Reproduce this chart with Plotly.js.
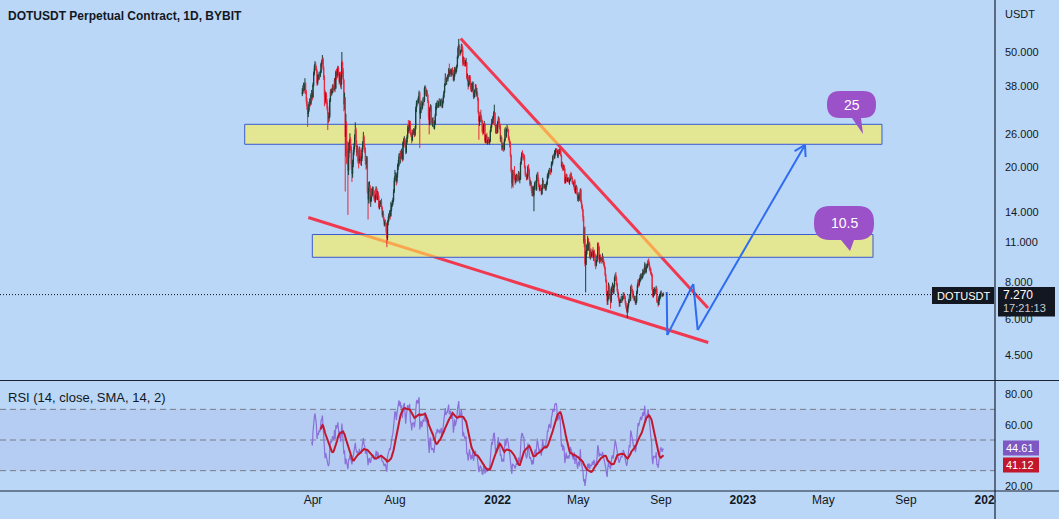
<!DOCTYPE html>
<html>
<head>
<meta charset="utf-8">
<script src="https://cdn.plot.ly/plotly-3.0.1.min.js"></script>
<style>
html,body{margin:0;padding:0;background:#bad7f8;overflow:hidden;}
#chart{width:1059px;height:519px;}
</style>
</head>
<body>
<div id="chart"></div>
<script>
// ---------------- DATA (daily candles, one row per month) ----------------
const monthStarts = ['2021-03-16','2021-04-01','2021-05-01','2021-06-01','2021-07-01','2021-08-01','2021-09-01','2021-10-01','2021-11-01','2021-12-01','2022-01-01','2022-02-01','2022-03-01','2022-04-01','2022-05-01','2022-06-01','2022-07-01','2022-08-01','2022-09-01'];

const openM = [
[35.8,36.4,37.2,38.0,37.0,39.0,36.5,34.0,32.5,30.5,31.5,33.0,33.8,33.2,35.5,36.0],
[35.0,38.5,42.0,44.0,45.5,44.0,43.0,39.0,41.0,40.5,42.0,41.5,42.5,45.5,46.0,47.5,44.0,41.0,35.5,34.0,35.5,33.5,32.0,30.5,29.5,30.0,34.0,36.5,36.0,36.5],
[38.0,37.5,37.0,40.0,37.5,42.5,41.5,42.5,44.0,42.0,39.5,42.0,38.5,41.0,46.0,43.0,40.0,33.0,34.5,25.5,28.0,23.0,22.5,19.5,23.5,23.0,25.0,23.5,20.5,19.0,20.5],
[22.5,23.5,25.5,27.0,24.0,22.5,23.0,21.0,21.0,23.0,22.0,21.0,21.5,23.0,24.0,25.5,23.5,23.0,21.0,20.5,21.5,16.5,15.5,17.0,17.2,15.3,15.5,16.6,16.2,16.9],
[16.5,15.6,15.4,15.9,16.9,15.6,16.3,15.9,14.6,15.1,14.9,15.2,14.5,13.7,13.8,13.2,12.7,12.9,12.8,12.0,11.4,12.9,13.2,13.7,13.8,13.6,14.3,14.8,15.1,15.4,16.5],
[18.0,18.6,18.6,17.9,18.9,20.2,20.4,21.8,21.3,22.4,21.8,22.5,21.3,24.3,24.4,24.9,23.8,22.6,24.4,25.4,27.3,26.7,27.5,28.5,26.2,25.9,24.8,26.5,26.4,26.5,25.9],
[27.2,31.8,33.2,34.0,33.5,34.8,36.2,30.6,31.5,33.3,32.0,33.2,34.5,34.0,37.5,37.6,35.7,36.5,35.6,33.9,30.0,28.1,32.0,32.4,29.0,28.4,28.9,28.5,27.4,28.3],
[30.2,32.4,32.4,33.6,32.8,33.2,33.5,32.8,33.5,34.1,32.4,33.7,35.0,36.3,38.5,40.6,39.4,40.5,40.4,41.5,43.3,41.8,42.6,43.0,41.7,43.5,42.9,40.0,41.4,43.9,42.6],
[43.6,44.6,48.0,51.5,52.6,50.0,49.5,50.4,52.5,51.0,46.0,47.5,45.8,45.5,46.0,46.0,40.8,41.0,38.2,39.5,41.0,39.3,37.2,38.3,37.0,39.0,35.0,36.0,36.8,37.5],
[35.8,36.0,34.5,31.0,28.9,29.5,30.3,29.7,28.9,26.6,26.6,27.9,28.3,24.7,25.3,25.6,24.5,24.6,25.0,24.5,24.7,26.7,27.6,29.0,28.4,29.8,30.6,30.8,28.0,26.4,27.5],
[26.4,28.6,29.5,28.0,27.6,25.0,25.3,23.4,23.4,23.8,23.0,24.8,27.0,25.6,26.9,27.2,27.0,25.2,24.7,23.6,21.9,19.5,17.6,19.3,19.0,18.8,18.5,17.8,18.3,18.6,18.3],
[18.3,19.1,18.1,18.2,20.7,21.5,22.3,22.2,21.7,21.7,20.0,18.9,18.8,18.3,18.6,20.1,19.6,18.2,17.5,17.7,16.9,16.3,16.8,16.0,17.0,17.5,17.6,16.8],
[18.7,18.8,18.1,17.4,16.7,17.2,16.8,16.2,17.0,18.0,17.2,17.1,17.2,16.8,17.5,17.6,18.7,18.7,19.4,19.6,19.3,19.3,20.5,20.8,21.8,21.6,21.6,22.8,22.8,23.0,22.8],
[21.9,22.8,22.4,23.0,22.7,22.0,20.2,20.5,19.7,20.2,19.8,17.8,18.3,18.8,17.9,18.2,18.2,17.8,18.1,18.8,18.6,18.4,17.8,17.6,17.4,17.9,16.5,16.9,17.0,16.2],
[15.5,15.9,16.0,15.4,16.7,15.2,14.7,14.3,13.5,11.1,11.3,9.3,9.8,10.3,10.4,11.3,10.4,10.9,9.8,10.2,9.9,10.0,10.3,9.8,10.2,10.0,9.4,9.2,9.5,9.9,10.9],
[10.6,9.6,9.9,9.6,9.7,9.5,9.8,9.5,9.2,9.0,8.5,8.1,7.4,6.9,7.4,7.8,7.2,7.2,6.9,7.6,7.6,7.7,7.4,7.8,8.3,8.5,8.3,7.9,7.5,7.3],
[7.0,6.8,6.9,6.9,7.1,7.0,7.1,7.3,7.2,7.1,6.8,6.6,6.4,6.5,6.7,6.9,7.1,7.0,7.7,7.6,7.5,7.3,7.1,7.0,7.1,6.8,6.9,7.4,7.8,8.0,7.9],
[8.1,8.3,8.4,8.3,8.4,8.7,8.6,8.8,9.2,8.7,9.0,9.1,9.2,9.5,9.3,8.9,8.9,8.6,8.5,7.6,7.2,7.5,7.5,7.5,7.4,7.6,6.9,6.9,6.7,7.1,7.1],
[7.3,7.4,7.3,7.2,7.3]
];

const highM = [
[37.5,38.4,39.2,38.6,40.6,39.4,37.0,34.8,33.0,32.2,33.6,34.6,34.4,36.0,37.0,36.5],
[39.2,42.8,45.0,46.5,46.0,44.8,43.6,41.8,41.6,42.6,42.8,43.2,46.0,47.0,48.8,47.8,44.6,41.5,37.0,36.4,36.2,34.4,32.6,31.0,30.8,34.6,37.2,37.4,37.4,38.6],
[38.8,38.2,40.6,40.8,43.2,43.8,43.0,44.8,44.6,42.6,42.6,42.8,41.8,50.0,46.6,44.0,40.4,36.2,35.0,30.6,28.8,24.6,23.2,24.4,24.8,26.2,25.4,23.8,21.4,21.2,23.0],
[24.2,26.0,28.6,27.4,24.8,23.8,23.4,21.8,23.6,23.4,22.4,21.8,23.4,24.6,26.5,25.8,24.2,23.4,21.4,21.9,21.8,17.0,17.8,17.9,17.4,15.9,16.9,17.0,17.2,17.1],
[16.7,15.9,16.1,17.2,17.0,16.6,16.5,16.0,15.3,15.4,15.4,15.6,14.7,14.2,14.1,13.4,13.1,13.2,12.9,12.1,13.1,13.5,13.9,14.2,14.0,15.2,15.0,15.4,15.7,16.8,18.4],
[19.6,19.2,18.9,19.2,20.6,21.2,22.3,22.4,22.8,22.9,23.2,22.8,24.6,25.2,25.6,25.2,24.2,24.9,25.9,27.9,29.1,28.0,29.0,28.9,27.0,26.3,26.9,27.1,27.3,27.0,27.8],
[32.4,33.9,34.1,34.6,35.2,36.8,36.4,32.3,34.0,33.8,33.6,34.9,35.0,38.0,38.4,37.8,37.0,37.0,35.8,34.0,30.6,32.4,33.0,32.8,29.8,29.6,29.8,29.0,29.0,30.6],
[33.3,33.4,34.0,34.1,33.8,34.6,33.9,34.3,34.6,34.5,34.0,35.6,36.8,39.0,42.2,41.0,40.9,41.6,42.0,44.0,45.6,43.4,43.8,43.5,44.0,44.4,43.4,42.0,44.4,44.5,44.0],
[45.2,48.6,52.4,55.5,53.2,50.6,51.0,53.4,53.3,52.0,48.2,48.0,46.6,46.9,47.7,46.2,42.1,41.6,39.9,41.6,41.6,39.7,39.0,38.8,39.6,39.4,36.8,37.2,38.7,38.6],
[37.6,36.5,34.9,31.2,30.0,31.0,31.6,30.2,29.2,28.0,28.3,28.9,28.4,25.9,26.0,26.3,24.9,25.4,25.5,25.0,27.0,28.0,29.4,29.3,30.1,31.2,32.9,31.0,28.3,28.0,28.0],
[28.9,30.0,29.8,28.8,28.2,25.8,25.5,24.2,24.4,24.0,25.1,27.4,27.6,27.2,28.0,27.6,27.1,25.6,24.9,24.5,22.2,19.8,19.6,19.6,19.5,20.2,19.0,18.8,19.0,18.9,18.8],
[19.4,19.3,18.6,20.9,21.8,22.6,22.9,22.4,22.1,22.1,20.3,19.3,19.0,18.9,20.3,20.5,19.8,18.5,18.0,17.9,17.3,17.2,17.3,17.2,17.8,18.0,17.9,18.9],
[19.2,19.3,18.4,17.6,17.4,17.4,16.9,17.5,18.4,18.1,17.5,17.5,17.3,17.6,17.9,19.0,19.2,19.6,19.9,19.8,19.8,20.9,21.0,22.0,22.3,22.0,22.9,23.2,23.3,23.3,23.0],
[23.0,23.1,23.2,23.3,23.0,22.1,20.9,20.7,20.4,20.4,19.9,18.5,19.0,19.0,18.4,18.5,18.4,18.2,19.0,19.3,19.1,18.6,18.0,17.8,18.0,18.2,17.2,17.4,17.2,16.4],
[16.1,16.4,16.2,16.9,16.9,15.4,14.9,14.4,13.6,12.4,12.5,10.3,10.8,10.9,11.6,11.4,11.1,11.0,10.4,10.5,10.2,10.4,10.6,10.3,10.4,10.1,9.6,9.6,10.0,11.0,11.0],
[10.7,10.0,10.0,9.8,9.8,10.1,9.9,9.6,9.4,9.1,8.6,8.2,7.5,7.5,8.0,7.9,7.5,7.3,7.7,7.8,8.0,7.8,7.9,8.4,8.6,8.7,8.4,8.0,7.6,7.4],
[7.1,7.0,7.0,7.2,7.2,7.2,7.4,7.4,7.3,7.2,6.9,6.7,6.6,6.8,7.0,7.3,7.2,7.8,7.9,7.8,7.6,7.5,7.2,7.2,7.2,7.0,7.5,7.9,8.2,8.2,8.3],
[8.5,8.6,8.6,8.6,8.9,8.8,9.0,9.4,9.3,9.1,9.3,9.3,9.6,9.7,9.4,9.1,9.0,8.7,8.6,7.7,7.6,7.7,7.7,7.6,7.8,7.7,7.0,7.0,7.2,7.3,7.4],
[7.5,7.5,7.35,7.35,7.4]
];

const lowM = [
[35.2,35.8,36.6,36.0,36.8,35.8,33.2,31.6,27.6,29.8,31.0,32.5,32.4,32.8,34.6,34.0],
[34.6,38.0,41.5,43.2,43.2,42.4,38.2,38.5,39.8,40.0,40.8,41.0,42.2,44.6,45.4,43.2,40.0,32.5,33.0,33.4,33.0,31.4,26.9,28.4,28.8,29.6,33.6,35.2,35.4,36.0],
[36.6,36.2,36.8,36.4,37.2,40.0,40.6,41.8,41.2,38.6,39.0,37.8,37.2,40.4,42.0,38.8,31.2,31.6,16.5,21.8,20.6,20.4,13.7,18.8,21.6,22.4,22.8,19.6,17.8,18.4,20.0],
[22.0,23.0,25.0,23.6,21.8,22.0,20.6,19.8,20.6,21.4,20.4,20.2,21.0,22.6,23.6,23.0,22.4,20.4,19.6,19.8,16.2,13.2,15.0,16.4,15.0,14.6,15.2,15.8,15.9,16.0],
[15.3,15.1,15.1,15.7,15.4,15.4,15.7,14.4,14.3,14.6,14.6,14.3,13.5,13.4,13.0,12.5,12.5,12.6,11.8,10.6,11.2,12.6,13.0,13.4,13.2,13.5,14.1,14.6,14.8,15.2,16.3],
[17.8,18.0,17.3,17.6,18.4,19.6,20.1,20.8,20.6,21.2,21.4,20.9,21.1,23.5,23.9,23.3,22.2,22.3,24.0,25.1,26.2,26.2,27.2,25.8,25.4,24.2,24.6,25.8,25.9,25.4,25.6],
[27.0,31.0,32.4,32.8,33.2,34.4,23.3,29.4,30.8,31.4,31.7,32.8,32.6,33.6,36.6,35.2,35.1,35.2,33.3,29.2,26.0,27.9,31.2,28.4,27.9,27.6,28.2,27.1,27.0,28.0],
[30.0,31.6,32.0,32.2,32.1,32.5,32.2,32.5,33.2,32.0,32.0,33.2,34.6,36.0,38.2,38.8,38.5,39.6,39.6,41.0,41.2,41.0,42.1,41.0,41.4,42.2,39.6,39.6,41.0,42.0,42.0],
[42.8,44.2,47.4,50.6,48.6,48.4,49.0,50.0,50.3,44.8,45.2,44.6,44.6,44.6,44.9,40.2,39.6,37.1,37.8,38.6,38.9,36.6,36.4,36.2,36.6,34.4,34.6,35.0,36.4,35.0],
[35.2,34.0,30.6,24.9,27.8,28.6,29.1,28.5,26.2,25.8,26.1,27.5,24.3,24.2,24.2,24.1,23.9,24.2,24.1,23.9,24.4,26.4,27.3,28.0,28.2,29.3,30.3,27.6,26.1,26.1,26.1],
[26.2,28.1,27.4,27.0,24.5,24.4,22.9,22.8,23.0,22.6,22.9,24.5,25.3,25.3,26.4,26.5,24.9,24.4,23.4,21.7,19.2,16.9,17.2,17.0,18.2,18.1,17.4,17.6,18.0,17.9,17.8],
[18.0,18.0,17.6,18.1,20.4,21.1,21.6,21.1,21.3,19.8,18.6,18.5,18.0,18.1,18.5,19.3,18.0,17.2,17.3,16.6,15.9,15.9,15.8,14.1,16.7,17.2,16.6,16.6],
[17.9,17.7,17.1,16.5,16.6,16.6,16.0,16.1,16.8,17.0,16.8,16.9,16.6,16.6,17.1,17.4,18.2,18.4,19.0,18.9,18.8,19.2,20.2,20.5,21.2,21.3,21.4,22.0,22.5,22.3,21.6],
[21.5,22.1,22.2,22.4,21.8,20.0,19.8,19.4,19.5,19.6,17.5,17.6,18.1,17.7,17.8,17.9,17.6,17.4,17.9,18.3,18.2,17.5,17.4,17.1,16.7,16.3,16.2,16.7,16.0,15.3],
[15.2,15.7,15.3,15.3,15.0,14.4,14.1,13.0,10.9,10.6,9.1,7.4,9.2,10.0,10.3,10.3,10.3,9.7,9.6,9.7,9.8,9.9,9.7,9.5,9.8,9.1,8.9,9.1,9.4,9.8,10.3],
[9.4,9.3,9.4,9.5,9.3,9.4,9.3,9.1,8.9,8.4,8.0,7.2,6.7,6.7,7.0,7.1,7.0,6.5,6.8,7.3,7.4,7.3,7.3,7.7,8.1,8.2,7.8,7.4,7.1,6.9],
[6.6,6.6,6.8,6.8,6.8,6.9,7.0,7.1,7.0,6.7,6.5,6.3,6.04,6.3,6.6,6.8,6.9,6.9,7.4,7.3,7.1,7.0,6.9,6.9,6.7,6.7,6.8,7.3,7.7,7.7,7.8],
[8.0,8.1,8.2,8.2,8.3,8.4,8.5,8.7,8.6,8.6,8.9,9.0,9.1,9.2,8.8,8.7,8.5,8.4,7.5,7.1,7.1,7.2,7.3,7.3,7.3,6.8,6.8,6.6,6.7,6.9,7.0],
[7.1,7.2,7.15,7.15,7.2]
];

const closeM = [
[36.4,37.2,38.0,37.0,39.0,36.5,34.0,32.5,30.5,31.5,33.0,33.8,33.2,35.5,36.0,35.0],
[38.5,42.0,44.0,45.5,44.0,43.0,39.0,41.0,40.5,42.0,41.5,42.5,45.5,46.0,47.5,44.0,41.0,35.5,34.0,35.5,33.5,32.0,30.5,29.5,30.0,34.0,36.5,36.0,36.5,38.0],
[37.5,37.0,40.0,37.5,42.5,41.5,42.5,44.0,42.0,39.5,42.0,38.5,41.0,46.0,43.0,40.0,33.0,34.5,25.5,28.0,23.0,22.5,19.5,23.5,23.0,25.0,23.5,20.5,19.0,20.5,22.5],
[23.5,25.5,27.0,24.0,22.5,23.0,21.0,21.0,23.0,22.0,21.0,21.5,23.0,24.0,25.5,23.5,23.0,21.0,20.5,21.5,16.5,15.5,17.0,17.2,15.3,15.5,16.6,16.2,16.9,16.5],
[15.6,15.4,15.9,16.9,15.6,16.3,15.9,14.6,15.1,14.9,15.2,14.5,13.7,13.8,13.2,12.7,12.9,12.8,12.0,11.4,12.9,13.2,13.7,13.8,13.6,14.3,14.8,15.1,15.4,16.5,18.0],
[18.6,18.6,17.9,18.9,20.2,20.4,21.8,21.3,22.4,21.8,22.5,21.3,24.3,24.4,24.9,23.8,22.6,24.4,25.4,27.3,26.7,27.5,28.5,26.2,25.9,24.8,26.5,26.4,26.5,25.9,27.2],
[31.8,33.2,34.0,33.5,34.8,36.2,30.6,31.5,33.3,32.0,33.2,34.5,34.0,37.5,37.6,35.7,36.5,35.6,33.9,30.0,28.1,32.0,32.4,29.0,28.4,28.9,28.5,27.4,28.3,30.2],
[32.4,32.4,33.6,32.8,33.2,33.5,32.8,33.5,34.1,32.4,33.7,35.0,36.3,38.5,40.6,39.4,40.5,40.4,41.5,43.3,41.8,42.6,43.0,41.7,43.5,42.9,40.0,41.4,43.9,42.6,43.6],
[44.6,48.0,51.5,52.6,50.0,49.5,50.4,52.5,51.0,46.0,47.5,45.8,45.5,46.0,46.0,40.8,41.0,38.2,39.5,41.0,39.3,37.2,38.3,37.0,39.0,35.0,36.0,36.8,37.5,35.8],
[36.0,34.5,31.0,28.9,29.5,30.3,29.7,28.9,26.6,26.6,27.9,28.3,24.7,25.3,25.6,24.5,24.6,25.0,24.5,24.7,26.7,27.6,29.0,28.4,29.8,30.6,30.8,28.0,26.4,27.5,26.4],
[28.6,29.5,28.0,27.6,25.0,25.3,23.4,23.4,23.8,23.0,24.8,27.0,25.6,26.9,27.2,27.0,25.2,24.7,23.6,21.9,19.5,17.6,19.3,19.0,18.8,18.5,17.8,18.3,18.6,18.3,18.3],
[19.1,18.1,18.2,20.7,21.5,22.3,22.2,21.7,21.7,20.0,18.9,18.8,18.3,18.6,20.1,19.6,18.2,17.5,17.7,16.9,16.3,16.8,16.0,17.0,17.5,17.6,16.8,18.7],
[18.8,18.1,17.4,16.7,17.2,16.8,16.2,17.0,18.0,17.2,17.1,17.2,16.8,17.5,17.6,18.7,18.7,19.4,19.6,19.3,19.3,20.5,20.8,21.8,21.6,21.6,22.8,22.8,23.0,22.8,21.9],
[22.8,22.4,23.0,22.7,22.0,20.2,20.5,19.7,20.2,19.8,17.8,18.3,18.8,17.9,18.2,18.2,17.8,18.1,18.8,18.6,18.4,17.8,17.6,17.4,17.9,16.5,16.9,17.0,16.2,15.5],
[15.9,16.0,15.4,16.7,15.2,14.7,14.3,13.5,11.1,11.3,9.3,9.8,10.3,10.4,11.3,10.4,10.9,9.8,10.2,9.9,10.0,10.3,9.8,10.2,10.0,9.4,9.2,9.5,9.9,10.9,10.6],
[9.6,9.9,9.6,9.7,9.5,9.8,9.5,9.2,9.0,8.5,8.1,7.4,6.9,7.4,7.8,7.2,7.2,6.9,7.6,7.6,7.7,7.4,7.8,8.3,8.5,8.3,7.9,7.5,7.3,7.0],
[6.8,6.9,6.9,7.1,7.0,7.1,7.3,7.2,7.1,6.8,6.6,6.4,6.5,6.7,6.9,7.1,7.0,7.7,7.6,7.5,7.3,7.1,7.0,7.1,6.8,6.9,7.4,7.8,8.0,7.9,8.1],
[8.3,8.4,8.3,8.4,8.7,8.6,8.8,9.2,8.7,9.0,9.1,9.2,9.5,9.3,8.9,8.9,8.6,8.5,7.6,7.2,7.5,7.5,7.5,7.4,7.6,6.9,6.9,6.7,7.1,7.1,7.3],
[7.4,7.3,7.2,7.3,7.27]
];

// axis ticks / labels
const priceTicks = [4.5, 6, 8, 11, 14, 20, 26, 38, 50];
const rsiTicks = [20, 60, 80];
const rsiLevels = [70, 50, 30];
const xTickVals = ['2021-04-01','2021-08-01','2022-01-01','2022-05-01','2022-09-01','2023-01-01','2023-05-01','2023-09-01','2024-01-01'];
const xTickText = ['Apr','Aug','<b>2022</b>','May','Sep','<b>2023</b>','May','Sep','<b>2024</b>'];
const lastPrice = 7.27, lastPriceText = '7.270', countdown = '17:21:13';
const rsiLastText = '44.61', rsiMaLastText = '41.12';

// drawings (time, price anchors)
const supportLine = [['2021-03-25', 13.42], ['2022-11-10 14:00', 4.97]];
const resistanceLine = [['2021-11-06 22:00', 55.7], ['2022-11-10 05:00', 6.54]];
const zones = [
  {t0:'2020-12-20 08:00', t1:'2023-07-27 05:00', top:28.14, bottom:24.01, label:'25'},
  {t0:'2021-03-31 00:00', t1:'2023-07-13 20:00', top:11.72, bottom:9.78, label:'10.5'}
];
const projection = [['2022-09-09 17:00', 7.42], ['2022-09-10 12:00', 5.27], ['2022-10-19 07:00', 7.91], ['2022-10-25 19:00', 5.49], ['2023-04-03 14:00', 23.88]];
const arrowWings = [['2023-03-19 02:00', 22.76], ['2023-04-04 12:00', 21.70]];

// ---------------- BUILD ----------------
const dates=[], open=[], high=[], low=[], close=[];
monthStarts.forEach((ms,m)=>{
  const p = ms.split('-').map(Number);
  closeM[m].forEach((c,j)=>{
    const d = new Date(Date.UTC(p[0], p[1]-1, p[2]+j));
    dates.push(d.toISOString().slice(0,10));
    open.push(openM[m][j]); high.push(highM[m][j]); low.push(lowM[m][j]); close.push(c);
  });
});

function rsiCalc(src,n){
  const out = src.map(()=>null); let ag=0, al=0;
  for(let i=1;i<src.length;i++){
    const ch=src[i]-src[i-1], g=ch>0?ch:0, l=ch<0?-ch:0;
    if(i<=n){ ag+=g; al+=l; if(i===n){ ag/=n; al/=n; out[i]= al===0?100:100-100/(1+ag/al); } }
    else { ag=(ag*(n-1)+g)/n; al=(al*(n-1)+l)/n; out[i]= al===0?100:100-100/(1+ag/al); }
  }
  return out;
}
function smaCalc(src,n){
  const out = src.map(()=>null);
  for(let i=0;i<src.length;i++){
    let s=0,k=0;
    for(let j=i-n+1;j<=i;j++){ if(j>=0 && src[j]!=null){ s+=src[j]; k++; } }
    if(k===n) out[i]=s/n;
  }
  return out;
}
const rsi = rsiCalc(close,14);
const rsiMa = smaCalc(rsi,14);

const BG = '#bad7f8', INK = '#131722', UP = '#173f35', DN = '#e6283c';
const FONT = 'Liberation Sans, Arial, sans-serif';
const W = 995, H = 491;
const X = x => x / W;
const Y = y => 1 - y / H;

const shapes = [];
// RSI band + levels
shapes.push({type:'rect', xref:'paper', yref:'y2', x0:0, x1:1, y0:rsiLevels[2], y1:rsiLevels[0], fillcolor:'rgba(126,87,194,0.08)', line:{width:0}, layer:'below'});
rsiLevels.forEach(v=>shapes.push({type:'line', xref:'paper', yref:'y2', x0:0, x1:1, y0:v, y1:v, line:{color:'#787b86', width:1, dash:'6px,4px'}, layer:'below'}));
// trend lines
[supportLine, resistanceLine].forEach(l=>shapes.push({type:'line', xref:'x', yref:'y', x0:l[0][0], y0:l[0][1], x1:l[1][0], y1:l[1][1], line:{color:'#f0384f', width:3}, layer:'below'}));
// zones
zones.forEach(z=>shapes.push({type:'rect', xref:'x', yref:'y', x0:z.t0, x1:z.t1, y0:z.bottom, y1:z.top, fillcolor:'rgba(255,240,80,0.6)', line:{color:'#3a5bd0', width:1}, layer:'below'}));
// projection path + arrow head
for(let i=0;i<projection.length-1;i++){
  shapes.push({type:'line', xref:'x', yref:'y', x0:projection[i][0], y0:projection[i][1], x1:projection[i+1][0], y1:projection[i+1][1], line:{color:'#2f6cf0', width:2}, layer:'above'});
}
const tip = projection[projection.length-1];
arrowWings.forEach(w=>shapes.push({type:'line', xref:'x', yref:'y', x0:tip[0], y0:tip[1], x1:w[0], y1:w[1], line:{color:'#2f6cf0', width:2}, layer:'above'}));
// last price dotted line
shapes.push({type:'line', xref:'paper', yref:'y', x0:0, x1:X(932), y0:lastPrice, y1:lastPrice, line:{color:INK, width:1, dash:'1px,2px'}, layer:'above'});
// cover under price scale on the time axis row
shapes.push({type:'rect', xref:'paper', yref:'paper', x0:X(995.5), x1:X(1059), y0:Y(519), y1:Y(491.5), fillcolor:BG, line:{width:0}, layer:'above'});
// frame lines
shapes.push({type:'line', xref:'paper', yref:'paper', x0:0, x1:X(1059), y0:Y(380.5), y1:Y(380.5), line:{color:'#1c2333', width:1.2}, layer:'above'});
shapes.push({type:'line', xref:'paper', yref:'paper', x0:0, x1:X(1059), y0:Y(491), y1:Y(491), line:{color:'#1c2333', width:1.2}, layer:'above'});
shapes.push({type:'line', xref:'paper', yref:'paper', x0:X(995), x1:X(995), y0:Y(519), y1:Y(0), line:{color:'#1c2333', width:1.2}, layer:'above'});
// price labels
shapes.push({type:'rect', xref:'paper', yref:'paper', x0:X(932), x1:X(994), y0:Y(304), y1:Y(287), fillcolor:INK, line:{width:0}, layer:'above'});
shapes.push({type:'rect', xref:'paper', yref:'paper', x0:X(998), x1:X(1055), y0:Y(316.5), y1:Y(287), fillcolor:INK, line:{width:0}, layer:'above'});
shapes.push({type:'rect', xref:'paper', yref:'paper', x0:X(1003), x1:X(1039), y0:Y(455.5), y1:Y(440.5), fillcolor:'#7e57c2', line:{width:0}, layer:'above'});
shapes.push({type:'rect', xref:'paper', yref:'paper', x0:X(1003), x1:X(1039), y0:Y(472.5), y1:Y(457.5), fillcolor:'#c3172e', line:{width:0}, layer:'above'});
// callout bubbles
function bubble(x0,y0,x1,y1,r,tb0,tb1,tx,ty){
  const p=(x,y)=>X(x).toFixed(5)+','+Y(y).toFixed(5);
  return 'M'+p(x0+r,y0)+' L'+p(x1-r,y0)+' Q'+p(x1,y0)+' '+p(x1,y0+r)+' L'+p(x1,y1-r)+' Q'+p(x1,y1)+' '+p(x1-r,y1)+
    ' L'+p(tb1,y1)+' L'+p(tx,ty)+' L'+p(tb0,y1)+' L'+p(x0+r,y1)+' Q'+p(x0,y1)+' '+p(x0,y1-r)+' L'+p(x0,y0+r)+' Q'+p(x0,y0)+' '+p(x0+r,y0)+' Z';
}
shapes.push({type:'path', xref:'paper', yref:'paper', path:bubble(827,91,876,118,13,852,861,863,134), fillcolor:'#9b51c8', line:{width:0}, layer:'above'});
shapes.push({type:'path', xref:'paper', yref:'paper', path:bubble(814,206,874,240,16,841,854,850,251), fillcolor:'#9b51c8', line:{width:0}, layer:'above'});

const ann = (text,x,y,xa,size,color,extra)=>Object.assign({text, xref:'paper', yref:'paper', x:X(x), y:Y(y), xanchor:xa, yanchor:'middle', showarrow:false, borderpad:0, font:{family:FONT, size, color}}, extra||{});
const annotations = [
  ann('<b>DOTUSDT Perpetual Contract, 1D, BYBIT</b>', 7, 16, 'left', 12, INK),
  ann('RSI (14, close, SMA, 14, 2)', 7, 397, 'left', 13, INK),
  ann('USDT', 1004, 14, 'left', 11, INK),
  ann('DOTUSDT', 963, 295.5, 'center', 11, '#ffffff'),
  ann(lastPriceText, 1002, 294.5, 'left', 12, '#ffffff'),
  ann(countdown, 1002, 307.5, 'left', 11, '#c9ccd4'),
  ann(rsiLastText, 1005, 448, 'left', 11, '#ffffff'),
  ann(rsiMaLastText, 1005, 465, 'left', 11, '#ffffff'),
  ann(zones[0].label, 851.5, 105, 'center', 14, '#ffffff'),
  ann(zones[1].label, 844, 223, 'center', 14, '#ffffff')
];

const traces = [
  {type:'candlestick', x:dates, open:open, high:high, low:low, close:close, xaxis:'x', yaxis:'y',
   increasing:{line:{color:UP, width:1}, fillcolor:UP}, decreasing:{line:{color:DN, width:1}, fillcolor:DN},
   whiskerwidth:0, hoverinfo:'skip', showlegend:false},
  {type:'scatter', mode:'lines', x:dates, y:rsi, xaxis:'x', yaxis:'y2', line:{color:'#8a70d8', width:1.2}, hoverinfo:'skip', showlegend:false},
  {type:'scatter', mode:'lines', x:dates, y:rsiMa, xaxis:'x', yaxis:'y2', line:{color:'#c3172e', width:2}, hoverinfo:'skip', showlegend:false}
];

const layout = {
  width:1059, height:519, margin:{l:0, r:64, t:0, b:28, pad:0},
  paper_bgcolor:BG, plot_bgcolor:BG, showlegend:false, hovermode:false, dragmode:false,
  font:{family:FONT, size:11, color:INK},
  xaxis:{type:'date', range:['2019-12-21 23:00','2024-01-11 12:00'], domain:[0,1], anchor:'y2',
    showgrid:false, zeroline:false, showline:false, ticks:'', tickmode:'array', tickvals:xTickVals, ticktext:xTickText,
    tickfont:{family:FONT, size:12, color:INK}, rangeslider:{visible:false}, fixedrange:true},
  yaxis:{type:'log', domain:[111/491,1], range:[0.56676,1.87847], side:'right', anchor:'x',
    showgrid:false, zeroline:false, showline:false, ticks:'', tickmode:'array', tickvals:priceTicks,
    ticktext:priceTicks.map(v=>v.toFixed(3)), ticklabelstandoff:9, tickfont:{family:FONT, size:11, color:INK}, fixedrange:true},
  yaxis2:{domain:[0,110/491], range:[16.74,88.48], side:'right', anchor:'x',
    showgrid:false, zeroline:false, showline:false, ticks:'', tickmode:'array', tickvals:rsiTicks,
    ticktext:rsiTicks.map(v=>v.toFixed(2)), ticklabelstandoff:9, tickfont:{family:FONT, size:11, color:INK}, fixedrange:true},
  shapes:shapes, annotations:annotations
};

Plotly.newPlot('chart', traces, layout, {displayModeBar:false, staticPlot:true});
</script>
</body>
</html>
